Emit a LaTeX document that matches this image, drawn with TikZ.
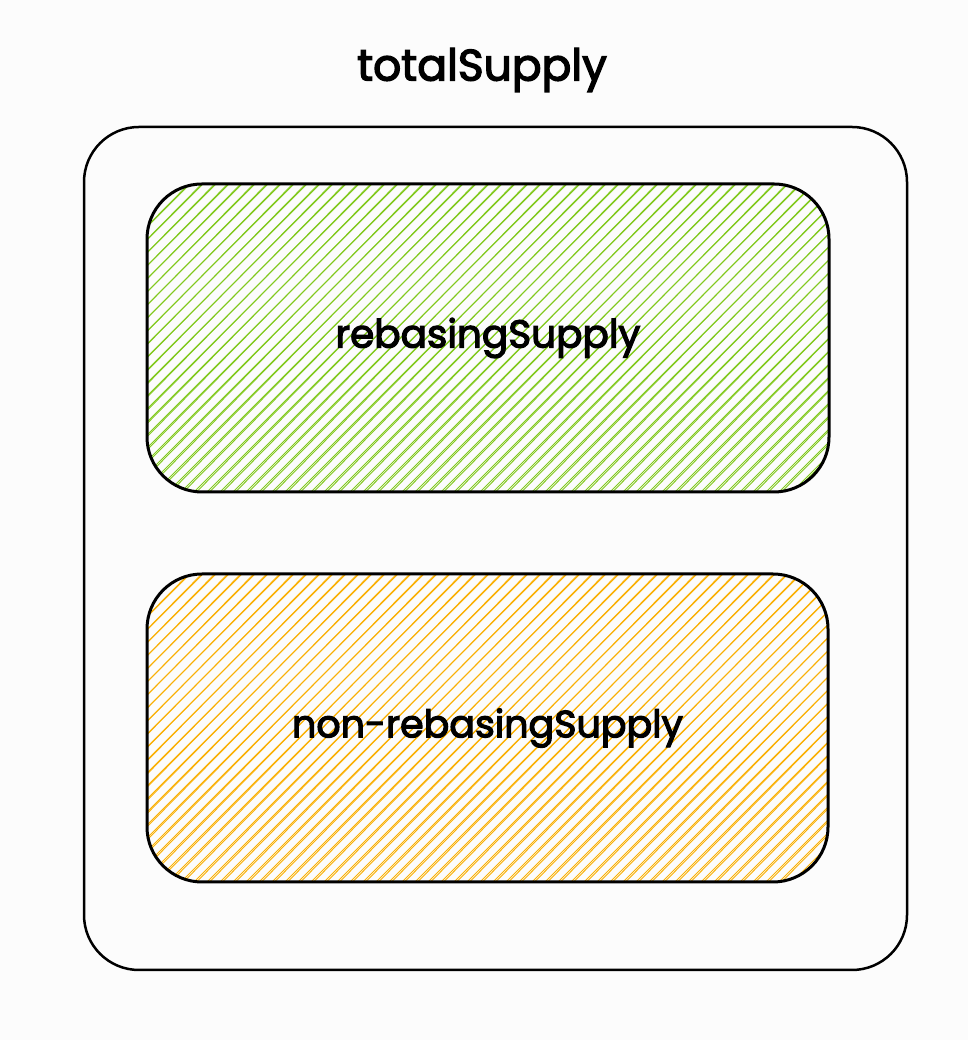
\documentclass[tikz,border=0pt]{standalone}
\usepackage{fontspec}
\newfontfamily\hand{Poppins}[FakeBold=3]
\definecolor{bg}{RGB}{252,252,252}
\definecolor{limeg}{RGB}{130,201,30}
\definecolor{goldo}{RGB}{250,176,5}
\tikzset{
  box/.style={draw=black, line width=3pt, rounded corners=55pt, inner sep=0pt},
  outerbox/.style={draw=black, line width=2.5pt, rounded corners=55pt, inner sep=0pt},
  hach/.style={line width=0.9pt},
  lbl/.style={font=\hand\fontsize{39}{44}\selectfont, text=black},
  hachfill/.style={path picture={
      \foreach \s in {-330,-317,...,700}{
        \draw[hach,#1] ([xshift=\s pt]path picture bounding box.south west) -- ++(330pt,330pt);
        \draw[hach,#1] ([xshift=\s pt+2.5pt]path picture bounding box.south west) -- ++(327pt,331pt);
      }}}
}
\begin{document}
\begin{tikzpicture}[x=1pt,y=1pt]
\fill[bg] (0,0) rectangle (968,1040);
\useasboundingbox (0,0) rectangle (968,1040);
\node[outerbox, minimum width=823pt, minimum height=843pt] (total) at (495.5,491.5) {};
\node[box, hachfill=limeg, minimum width=682pt, minimum height=308pt] (rebasing) at (488,702) {};
\node[box, hachfill=goldo, minimum width=681pt, minimum height=308pt] (nonrebasing) at (487.5,312) {};
\node[lbl, font=\hand\fontsize{44}{50}\selectfont] (title) at (482,970) {totalSupply};
\node[lbl] (rebtext) at (rebasing.center) {rebasingSupply};
\node[lbl, font=\hand\fontsize{38}{44}\selectfont] (nonrebtext) at (nonrebasing.center) {non-rebasingSupply};
\end{tikzpicture}
\end{document}
